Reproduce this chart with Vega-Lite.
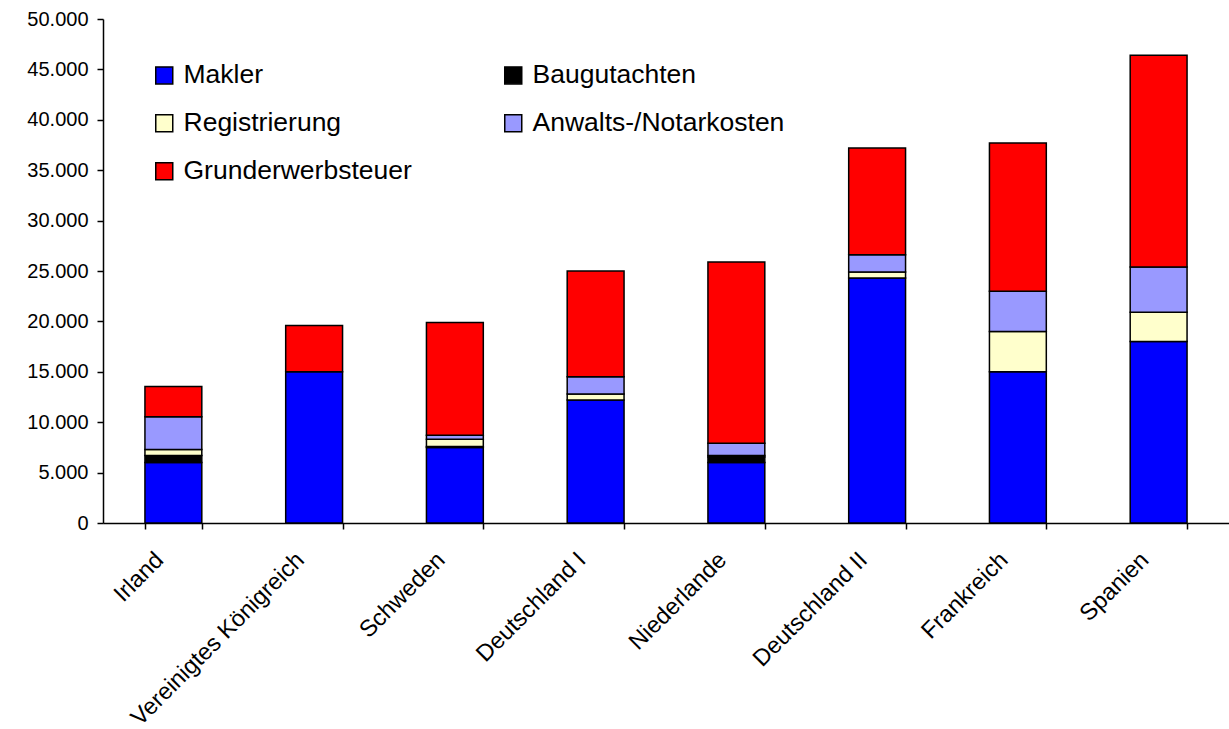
{
  "$schema": "https://vega.github.io/schema/vega-lite/v6.json",
  "width": 1126,
  "height": 504,
  "autosize": {"type": "none"},
  "padding": {"left": 103, "top": 19, "right": 0, "bottom": 206},
  "background": "white",
  "config": {
    "view": {"stroke": null},
    "font": "Liberation Sans"
  },
  "data": {
    "values": [
      {"land": "Irland", "kategorie": "Makler", "wert": 6000, "o": 1},
      {"land": "Irland", "kategorie": "Baugutachten", "wert": 700, "o": 2},
      {"land": "Irland", "kategorie": "Registrierung", "wert": 600, "o": 3},
      {"land": "Irland", "kategorie": "Anwalts-/Notarkosten", "wert": 3250, "o": 4},
      {"land": "Irland", "kategorie": "Grunderwerbsteuer", "wert": 3000, "o": 5},
      {"land": "Vereinigtes Königreich", "kategorie": "Makler", "wert": 15000, "o": 1},
      {"land": "Vereinigtes Königreich", "kategorie": "Grunderwerbsteuer", "wert": 4600, "o": 5},
      {"land": "Schweden", "kategorie": "Makler", "wert": 7500, "o": 1},
      {"land": "Schweden", "kategorie": "Baugutachten", "wert": 100, "o": 2},
      {"land": "Schweden", "kategorie": "Registrierung", "wert": 700, "o": 3},
      {"land": "Schweden", "kategorie": "Anwalts-/Notarkosten", "wert": 400, "o": 4},
      {"land": "Schweden", "kategorie": "Grunderwerbsteuer", "wert": 11200, "o": 5},
      {"land": "Deutschland I", "kategorie": "Makler", "wert": 12200, "o": 1},
      {"land": "Deutschland I", "kategorie": "Registrierung", "wert": 600, "o": 3},
      {"land": "Deutschland I", "kategorie": "Anwalts-/Notarkosten", "wert": 1700, "o": 4},
      {"land": "Deutschland I", "kategorie": "Grunderwerbsteuer", "wert": 10500, "o": 5},
      {"land": "Niederlande", "kategorie": "Makler", "wert": 6000, "o": 1},
      {"land": "Niederlande", "kategorie": "Baugutachten", "wert": 550, "o": 2},
      {"land": "Niederlande", "kategorie": "Registrierung", "wert": 150, "o": 3},
      {"land": "Niederlande", "kategorie": "Anwalts-/Notarkosten", "wert": 1200, "o": 4},
      {"land": "Niederlande", "kategorie": "Grunderwerbsteuer", "wert": 18000, "o": 5},
      {"land": "Deutschland II", "kategorie": "Makler", "wert": 24300, "o": 1},
      {"land": "Deutschland II", "kategorie": "Registrierung", "wert": 600, "o": 3},
      {"land": "Deutschland II", "kategorie": "Anwalts-/Notarkosten", "wert": 1700, "o": 4},
      {"land": "Deutschland II", "kategorie": "Grunderwerbsteuer", "wert": 10600, "o": 5},
      {"land": "Frankreich", "kategorie": "Makler", "wert": 15000, "o": 1},
      {"land": "Frankreich", "kategorie": "Registrierung", "wert": 4000, "o": 3},
      {"land": "Frankreich", "kategorie": "Anwalts-/Notarkosten", "wert": 4000, "o": 4},
      {"land": "Frankreich", "kategorie": "Grunderwerbsteuer", "wert": 14700, "o": 5},
      {"land": "Spanien", "kategorie": "Makler", "wert": 18000, "o": 1},
      {"land": "Spanien", "kategorie": "Registrierung", "wert": 2900, "o": 3},
      {"land": "Spanien", "kategorie": "Anwalts-/Notarkosten", "wert": 4500, "o": 4},
      {"land": "Spanien", "kategorie": "Grunderwerbsteuer", "wert": 21000, "o": 5}
    ]
  },
  "mark": {"type": "bar", "stroke": "black", "strokeWidth": 1.5},
  "encoding": {
    "x": {
      "field": "land",
      "type": "nominal",
      "sort": ["Irland", "Vereinigtes Königreich", "Schweden", "Deutschland I", "Niederlande", "Deutschland II", "Frankreich", "Spanien"],
      "scale": {"paddingInner": 0.596, "paddingOuter": 0.298},
      "axis": {
        "title": null,
        "labelAngle": -45,
        "labelAlign": "right",
        "labelBaseline": "middle",
        "labelFontSize": 23.5,
        "labelColor": "black",
        "labelPadding": 27,
        "labelOffset": -14,
        "domainColor": "black",
        "domainWidth": 1.5,
        "tickColor": "black",
        "tickSize": 6,
        "tickWidth": 1.5,
        "tickBand": "extent",
        "labelLimit": 400
      }
    },
    "y": {
      "field": "wert",
      "type": "quantitative",
      "stack": "zero",
      "scale": {"domain": [0, 50000], "nice": false},
      "axis": {
        "title": null,
        "values": [0, 5000, 10000, 15000, 20000, 25000, 30000, 35000, 40000, 45000, 50000],
        "labelExpr": "replace(format(datum.value, ',d'), ',', '.')",
        "labelFontSize": 20,
        "labelColor": "black",
        "labelPadding": 9,
        "grid": false,
        "domainColor": "black",
        "domainWidth": 1.5,
        "tickColor": "black",
        "tickSize": 6,
        "tickWidth": 1.5
      }
    },
    "color": {
      "field": "kategorie",
      "type": "nominal",
      "scale": {
        "domain": ["Makler", "Baugutachten", "Registrierung", "Anwalts-/Notarkosten", "Grunderwerbsteuer"],
        "range": ["#0000FF", "#000000", "#FFFFCC", "#9999FF", "#FF0000"]
      },
      "legend": {
        "title": null,
        "orient": "none",
        "direction": "horizontal",
        "legendX": 48,
        "legendY": 43,
        "columns": 2,
        "columnPadding": 88,
        "rowPadding": 21,
        "padding": 0,
        "symbolType": "square",
        "symbolSize": 289,
        "symbolStrokeColor": "black",
        "symbolStrokeWidth": 1.5,
        "symbolOpacity": 1,
        "labelFontSize": 26.5,
        "labelColor": "black",
        "labelOffset": 6,
        "labelLimit": 400
      }
    },
    "order": {"field": "o", "type": "quantitative"}
  }
}
